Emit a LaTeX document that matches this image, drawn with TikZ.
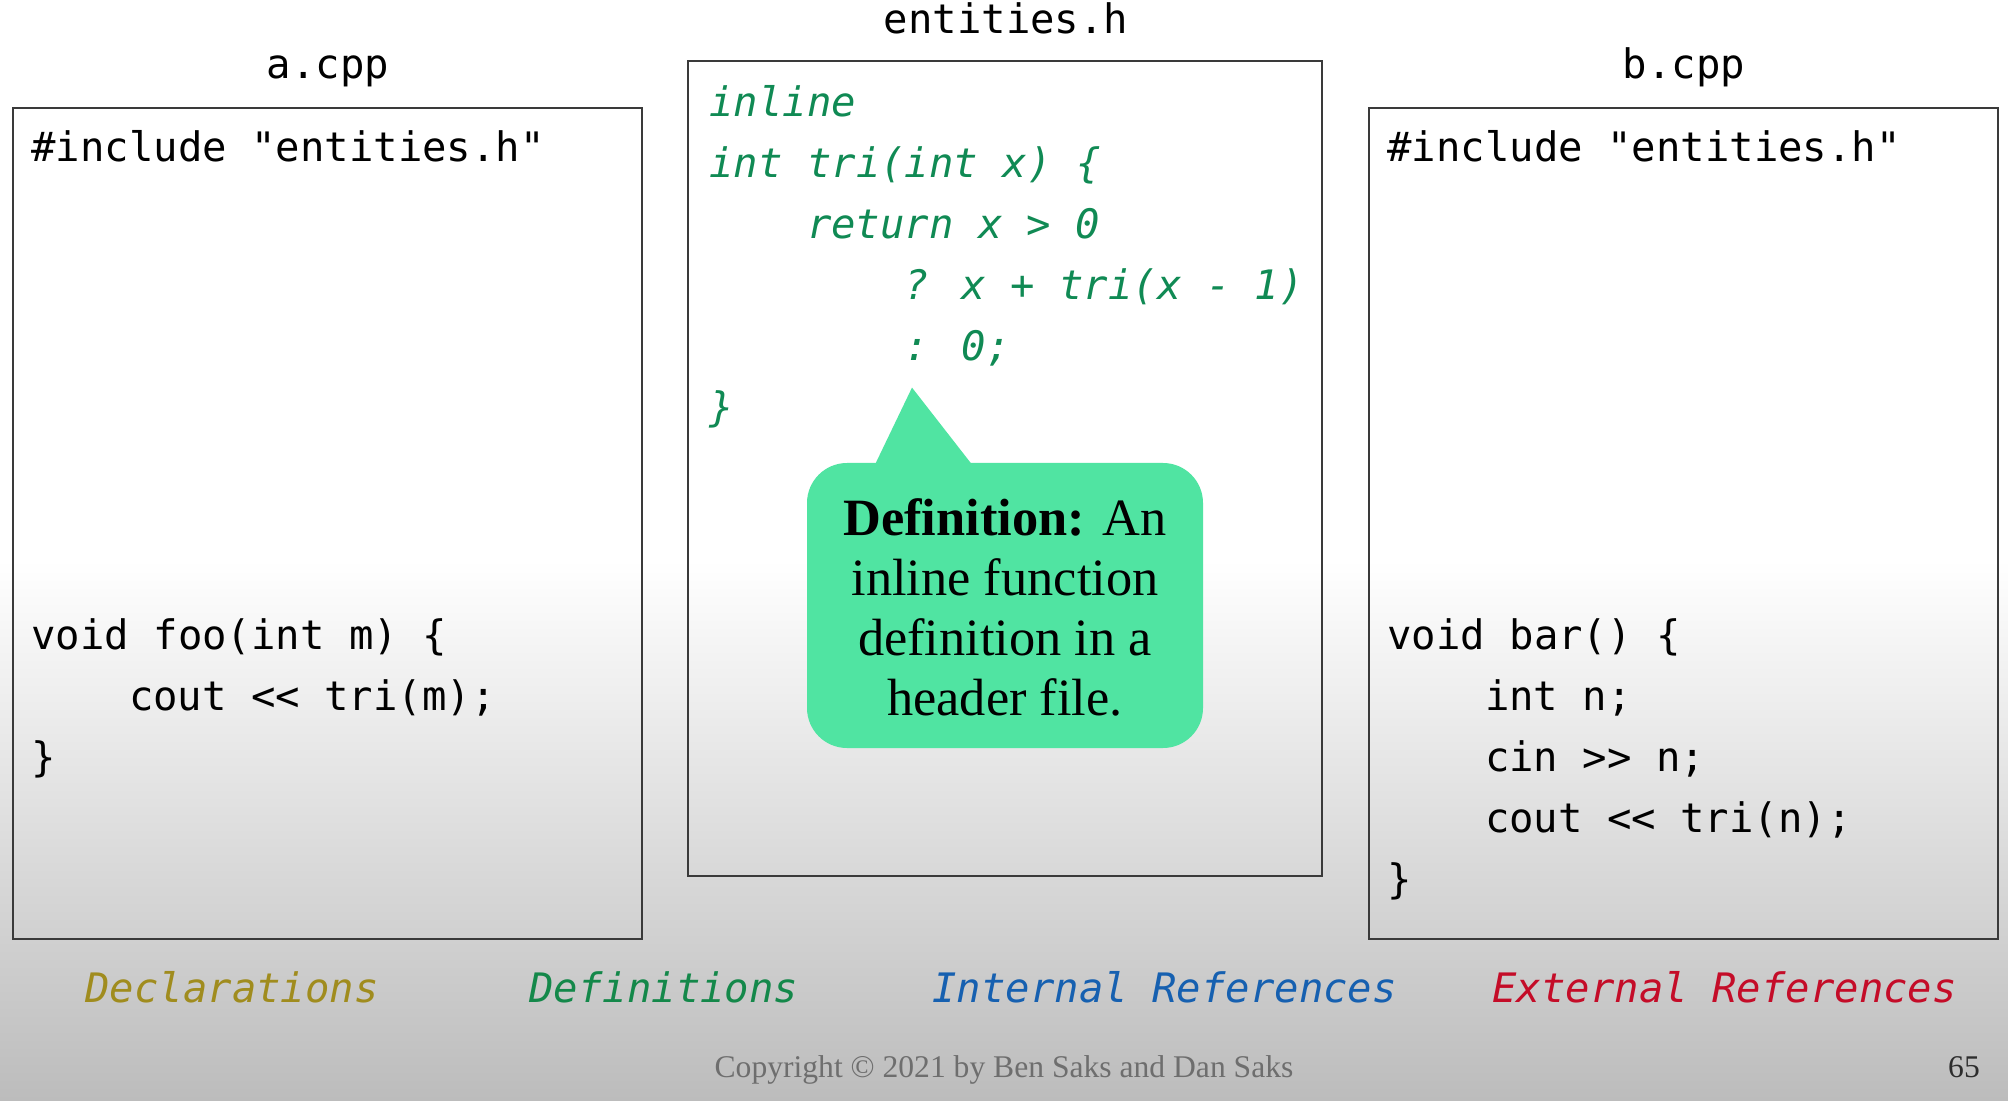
\documentclass[tikz,border=0pt]{standalone}
\usepackage{fontspec}
\usetikzlibrary{calc}
\newfontfamily\codefont[Ligatures=TeXOff]{DejaVu Sans Mono}
\newfontfamily\serifont{Liberation Serif}
\definecolor{codegreen}{RGB}{16,138,84}
\definecolor{calloutgreen}{RGB}{80,228,162}
\definecolor{declcol}{RGB}{160,140,30}
\definecolor{defcol}{RGB}{20,136,74}
\definecolor{intcol}{RGB}{22,96,176}
\definecolor{extcol}{RGB}{196,12,40}
\definecolor{boxline}{RGB}{58,58,58}
\definecolor{bggray}{RGB}{188,188,188}
\tikzset{
  filebox/.style={draw=boxline, line width=1.1pt, inner sep=0pt},
  code/.style={anchor=base west, inner sep=0pt, font=\codefont\fontsize{20.3}{24}\selectfont, text=black},
  gcode/.style={code, font=\codefont\itshape\fontsize{20.3}{24}\selectfont, text=codegreen},
  fname/.style={anchor=base, inner sep=0pt, font=\codefont\fontsize{20.3}{24}\selectfont, text=black},
  legend/.style={anchor=base west, inner sep=0pt, font=\codefont\itshape\fontsize{20.3}{24}\selectfont},
  calloutbox/.style={fill=calloutgreen, rounded corners=20pt, inner sep=0pt, minimum width=198pt, minimum height=142.5pt},
  callouttext/.style={anchor=base, inner sep=0pt, font=\serifont\fontsize{26.2}{30}\selectfont},
  foot/.style={anchor=base, inner sep=0pt, font=\serifont\fontsize{15.8}{18}\selectfont}
}
\begin{document}
\begin{tikzpicture}[x=0.5pt, y=-0.5pt]
\useasboundingbox (0,0) rectangle (2008,1101);
\fill[white] (0,0) rectangle (2008,561);
\shade[top color=white, bottom color=bggray] (0,560) rectangle (2008,1101);

% boxes
\node[filebox, minimum width=314.5pt, minimum height=415.5pt] (abox) at (327.5,523.5) {};
\node[filebox, minimum width=317pt, minimum height=407.5pt] (hbox) at (1005,468.5) {};
\node[filebox, minimum width=314.5pt, minimum height=415.5pt] (bbox) at (1683.5,523.5) {};

% file names
\node[fname] (alabel) at (328,79) {a.cpp};
\node[fname] (hlabel) at (1006,34) {entities.h};
\node[fname] (blabel) at (1684,79) {b.cpp};

% a.cpp
\node[code] (a1) at (31,162) {\#include "entities.h"};
\node[code] (a2) at (31,649) {void foo(int m) \{};
\node[code] (a3) at (128.6,710) {cout << tri(m);};
\node[code] (a4) at (31,771) {\}};

% entities.h
\node[gcode] (h1) at (709,117) {inline};
\node[gcode] (h2) at (709,178) {int tri(int x) \{};
\node[gcode] (h3) at (806.6,239) {return x > 0};
\node[gcode] (h4) at (904.2,300) {? x + tri(x - 1)};
\node[gcode] (h5) at (904.2,361) {: 0;};
\node[gcode] (h6) at (709,422) {\}};

% b.cpp
\node[code] (b1) at (1387,162) {\#include "entities.h"};
\node[code] (b2) at (1387,649) {void bar() \{};
\node[code] (b3) at (1484.6,710) {int n;};
\node[code] (b4) at (1484.6,771) {cin >> n;};
\node[code] (b5) at (1484.6,832) {cout << tri(n);};
\node[code] (b6) at (1387,893) {\}};

% callout
\node[calloutbox] (def) at (1005,605.5) {};
\fill[calloutgreen] ($(def.north)+(-130,2)$) -- ($(def.north)+(-93,-75)$) -- ($(def.north)+(-33,2)$) -- cycle;
\node[callouttext] (d1) at (1005,535) {\textbf{Definition:} An};
\node[callouttext] (d2) at (1005,595) {inline function};
\node[callouttext] (d3) at (1005,655) {definition in a};
\node[callouttext] (d4) at (1005,715) {header file.};

% legend
\node[legend, text=declcol] (lg1) at (85,1002) {Declarations};
\node[legend, text=defcol] (lg2) at (529,1002) {Definitions};
\node[legend, text=intcol] (lg3) at (932,1002) {Internal References};
\node[legend, text=extcol] (lg4) at (1492,1002) {External References};

% footer
\node[foot, text={rgb,255:red,110;green,110;blue,110}] (copy) at (1004,1077) {Copyright © 2021 by Ben Saks and Dan Saks};
\node[foot, text={rgb,255:red,45;green,45;blue,45}] (page) at (1964,1077) {65};
\end{tikzpicture}
\end{document}
